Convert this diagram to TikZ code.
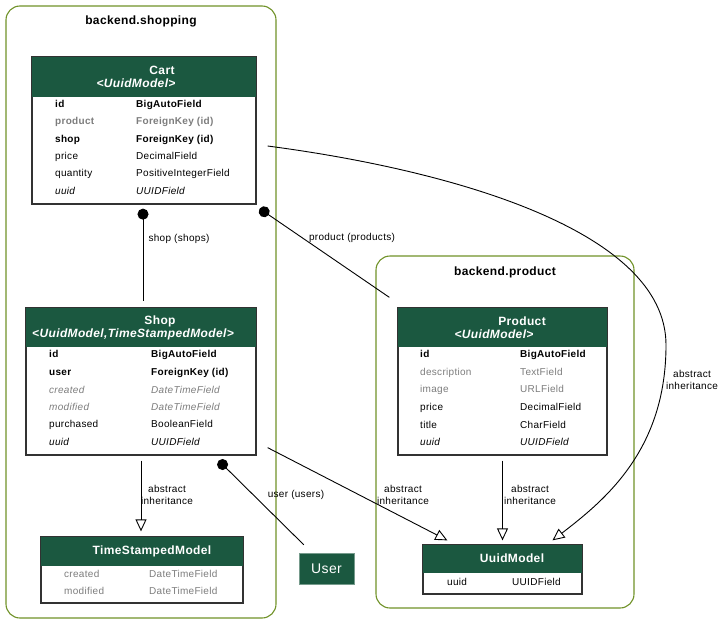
\documentclass[tikz,border=0pt]{standalone}
\usepackage{fontspec}
\setmainfont{Liberation Sans}[LetterSpace=3]
\usepackage{tikz}
\usetikzlibrary{arrows.meta}

\definecolor{hdrgreen}{RGB}{27,88,64}
\definecolor{olive}{RGB}{112,146,40}
\definecolor{fieldgray}{RGB}{125,125,125}
\definecolor{boxgray}{RGB}{50,50,50}

\begin{document}
\begin{tikzpicture}[x=1pt,y=-1pt,
    cluster/.style={draw=olive,line width=1.1pt,rounded corners=14pt},
    ctitle/.style={font=\fontsize{12}{14}\selectfont\bfseries},
    tbl/.style={draw=boxgray,line width=1.3pt,inner sep=0,fill=white},
    hdr/.style={fill=hdrgreen},
    htext/.style={text=white,font=\fontsize{12}{14}\selectfont\bfseries,inner sep=0},
    hsub/.style={text=white,font=\fontsize{12}{14}\selectfont\bfseries\itshape,inner sep=0},
    row/.style={anchor=west,inner sep=0,font=\fontsize{10}{12}\selectfont},
    pk/.style={row,font=\fontsize{10}{12}\selectfont\bfseries},
    fkgray/.style={pk,text=fieldgray},
    muted/.style={row,text=fieldgray},
    mutedit/.style={row,text=fieldgray,font=\fontsize{10}{12}\selectfont\itshape},
    ital/.style={row,font=\fontsize{10}{12}\selectfont\itshape},
    elabel/.style={font=\fontsize{10}{11.5}\selectfont,align=center,inner sep=0},
    fk/.style={{Circle[length=11pt]}-,line width=0.9pt},
    inh/.style={-{Triangle[open,length=12pt,width=11pt]},line width=0.9pt}]

\useasboundingbox (0,0) rectangle (727,624);

% clusters
\draw[cluster] (6,6) rectangle (276,618);
\node[ctitle] (shoppingtitle) at (141,21) {backend.shopping};
\draw[cluster] (376,256) rectangle (634,608);
\node[ctitle] (producttitle) at (505,272) {backend.product};

% Cart
\node[tbl,minimum width=224pt,minimum height=147pt] (cart) at (144,130.5) {};
\fill[hdr] ([shift={(0.7pt,-0.7pt)}]cart.north west) rectangle ([shift={(-0.7pt,-41pt)}]cart.north east);
\node[htext] (cartname) at (162,70) {Cart};
\node[hsub] (cartbase) at (136,83) {<UuidModel>};
\node[pk] (cart1) at (55,105) {\makebox[81pt][l]{id}BigAutoField};
\node[fkgray] (cart2) at (55,122) {\makebox[81pt][l]{product}ForeignKey (id)};
\node[pk] (cart3) at (55,139.5) {\makebox[81pt][l]{shop}ForeignKey (id)};
\node[row] (cart4) at (55,157) {\makebox[81pt][l]{price}DecimalField};
\node[row] (cart5) at (55,174) {\makebox[81pt][l]{quantity}PositiveIntegerField};
\node[ital] (cart6) at (55,191) {\makebox[81pt][l]{uuid}UUIDField};

% Shop
\node[tbl,minimum width=230pt,minimum height=147pt] (shop) at (141,381.5) {};
\fill[hdr] ([shift={(0.7pt,-0.7pt)}]shop.north west) rectangle ([shift={(-0.7pt,-40pt)}]shop.north east);
\node[htext] (shopname) at (160,321) {Shop};
\node[hsub] (shopbase) at (133,334) {<UuidModel,TimeStampedModel>};
\node[pk] (shop1) at (49,355) {\makebox[102pt][l]{id}BigAutoField};
\node[pk] (shop2) at (49,373) {\makebox[102pt][l]{user}ForeignKey (id)};
\node[mutedit] (shop3) at (49,390) {\makebox[102pt][l]{created}DateTimeField};
\node[mutedit] (shop4) at (49,407) {\makebox[102pt][l]{modified}DateTimeField};
\node[row] (shop5) at (49,425) {\makebox[102pt][l]{purchased}BooleanField};
\node[ital] (shop6) at (49,442) {\makebox[102pt][l]{uuid}UUIDField};

% TimeStampedModel
\node[tbl,minimum width=202pt,minimum height=66pt] (tsm) at (142,570) {};
\fill[hdr] ([shift={(0.7pt,-0.7pt)}]tsm.north west) rectangle ([shift={(-0.7pt,-30pt)}]tsm.north east);
\node[htext] (tsmname) at (152,551) {TimeStampedModel};
\node[muted] (tsm1) at (64,573.5) {\makebox[85pt][l]{created}DateTimeField};
\node[muted] (tsm2) at (64,591) {\makebox[85pt][l]{modified}DateTimeField};

% Product
\node[tbl,minimum width=209pt,minimum height=147pt] (product) at (502.5,381.5) {};
\fill[hdr] ([shift={(0.7pt,-0.7pt)}]product.north west) rectangle ([shift={(-0.7pt,-40pt)}]product.north east);
\node[htext] (productname) at (522,321) {Product};
\node[hsub] (productbase) at (494,334) {<UuidModel>};
\node[pk] (product1) at (420,355) {\makebox[100pt][l]{id}BigAutoField};
\node[muted] (product2) at (420,373) {\makebox[100pt][l]{description}TextField};
\node[muted] (product3) at (420,390) {\makebox[100pt][l]{image}URLField};
\node[row] (product4) at (420,407.5) {\makebox[100pt][l]{price}DecimalField};
\node[row] (product5) at (420,425) {\makebox[100pt][l]{title}CharField};
\node[ital] (product6) at (420,442) {\makebox[100pt][l]{uuid}UUIDField};

% UuidModel
\node[tbl,minimum width=159pt,minimum height=49pt] (uuid) at (502.5,569.5) {};
\fill[hdr] ([shift={(0.7pt,-0.7pt)}]uuid.north west) rectangle ([shift={(-0.7pt,-29pt)}]uuid.north east);
\node[htext] (uuidname) at (512,558.5) {UuidModel};
\node[row] (uuid1) at (447,581.5) {\makebox[65pt][l]{uuid}UUIDField};

% User
\node[fill=hdrgreen,draw=hdrgreen!60!white,text=white,font=\fontsize{14}{16}\selectfont,
      minimum width=55pt,minimum height=31pt,inner sep=0] (user) at (326.5,568.5) {User};

% relations
\draw[fk] ([xshift=-1pt,yshift=-4pt]cart.south) -- ([xshift=2pt,yshift=6pt]shop.north);
\node[elabel] (shopslabel) at (179,239) {shop (shops)};

\draw[fk] ([xshift=3pt,yshift=-4pt]cart.south east) -- ([xshift=-8pt,yshift=10pt]product.north west);
\node[elabel] (productslabel) at (352,238) {product (products)};

\draw[inh] ([xshift=11pt,yshift=-15.5pt]cart.east) .. controls (450,170) and (666,230) .. (666,345)
    .. controls (666,450) and (605,500) .. ([xshift=50pt,yshift=4pt]uuid.north);
\node[elabel] (inhlabel1) at (692,380) {abstract\\inheritance};

\draw[inh] ([yshift=-5pt]shop.south) -- ([xshift=-1pt,yshift=5pt]tsm.north);
\node[elabel] (inhlabel2) at (167,495) {abstract\\inheritance};

\draw[fk] ([xshift=-38pt,yshift=-5pt]shop.south east) -- ([xshift=5pt,yshift=8pt]user.north west);
\node[elabel] (userslabel) at (296,495) {user (users)};

\draw[inh] ([xshift=11pt,yshift=8pt]shop.south east) -- ([xshift=25pt,yshift=4pt]uuid.north west);
\node[elabel] (inhlabel3) at (403,495) {abstract\\inheritance};

\draw[inh] ([yshift=-5pt]product.south) -- ([yshift=4pt]uuid.north);
\node[elabel] (inhlabel4) at (530,495) {abstract\\inheritance};

\end{tikzpicture}
\end{document}
